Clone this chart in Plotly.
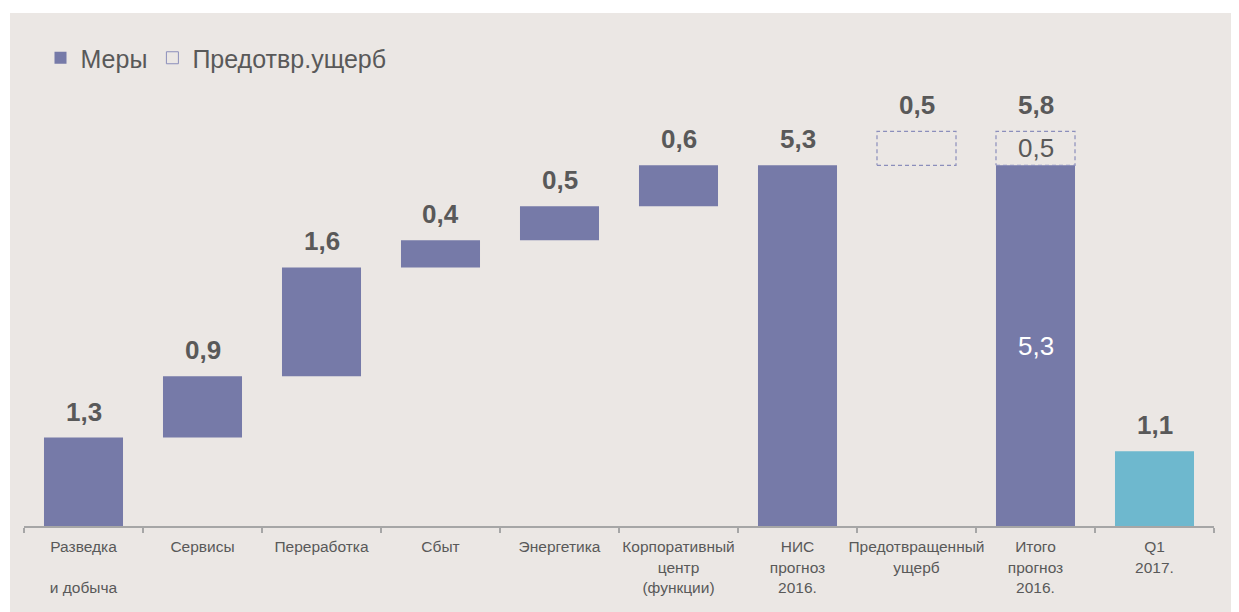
import plotly.graph_objects as go

categories = ["Разведка<br> <br>и добыча", "Сервисы", "Переработка", "Сбыт", "Энергетика",
              "Корпоративный<br>центр<br>(функции)", "НИС<br>прогноз<br>2016.",
              "Предотвращенный<br>ущерб", "Итого<br>прогноз<br>2016.", "Q1<br>2017."]
measures = [1.3, 0.9, 1.6, 0.4, 0.5, 0.6]
nis_total = 5.3
prevented = 0.5
q1_2017 = 1.1

PURPLE = "#767AA8"
CYAN = "#6EB8CE"
DASH = "#8B8EBB"
TXT = "#595959"
BG = "#EBE7E4"
FONT = "Arial, Liberation Sans, sans-serif"
W = 0.664

def fmt(v):
    return f"{v:.1f}".replace(".", ",")

# waterfall geometry from data
bases = []
c = 0.0
for v in measures:
    bases.append(c)
    c += v
n = len(measures)
i_nis, i_prev, i_tot, i_q1 = n, n + 1, n + 2, n + 3

fig = go.Figure()
fig.add_trace(go.Bar(
    name="Меры",
    x=list(range(n)) + [i_nis, i_tot],
    y=measures + [nis_total, nis_total],
    base=bases + [0, 0],
    width=W, marker=dict(color=PURPLE, line=dict(width=0)),
))
fig.add_trace(go.Bar(
    x=[i_q1], y=[q1_2017], base=[0], width=W, showlegend=False,
    marker=dict(color=CYAN, line=dict(width=0)),
))
# legend entry for prevented damage
fig.add_trace(go.Bar(
    name="Предотвр.ущерб", x=[None], y=[None],
    marker=dict(color="rgba(0,0,0,0)", line=dict(color=DASH, width=1)),
))
# dashed boxes
for i in (i_prev, i_tot):
    fig.add_trace(go.Scatter(
        x=[i - W / 2, i + W / 2, i + W / 2, i - W / 2, i - W / 2],
        y=[nis_total, nis_total, nis_total + prevented, nis_total + prevented, nis_total],
        mode="lines", line=dict(color=DASH, width=1.2, dash="4px,3px"),
        showlegend=False, hoverinfo="skip",
    ))

# labels on top
tops = [b + v for b, v in zip(bases, measures)] + [nis_total, nis_total + prevented,
                                                     nis_total + prevented, q1_2017]
top_vals = measures + [nis_total, prevented, nis_total + prevented, q1_2017]
for i, (t, v) in enumerate(zip(tops, top_vals)):
    fig.add_annotation(x=i, y=t, text=f"<b>{fmt(v)}</b>", showarrow=False,
                       yanchor="middle", yshift=26,
                       font=dict(family=FONT, size=26, color=TXT))
# inner labels for the total bar
fig.add_annotation(x=i_tot, y=nis_total / 2, text=fmt(nis_total), showarrow=False,
                   yanchor="middle", font=dict(family=FONT, size=26, color="white"))
fig.add_annotation(x=i_tot, y=nis_total + prevented / 2, text=fmt(prevented), showarrow=False,
                   yanchor="middle", font=dict(family=FONT, size=26, color=TXT))

FW, FH = 1231, 604
L, R, T, B = 16, 25, 92, 86
PW, PH = FW - L - R, FH - T - B
fig.add_shape(type="rect", xref="paper", yref="paper", layer="below",
              x0=(2 - L) / PW, x1=1.05, y0=-0.3, y1=(FH - B - 5) / PH,
              fillcolor=BG, line=dict(width=0))

fig.update_layout(
    width=FW, height=FH,
    margin=dict(l=L, r=R, t=T, b=B),
    paper_bgcolor="white", plot_bgcolor="rgba(0,0,0,0)",
    barmode="overlay",
    font=dict(family=FONT, color=TXT),
    legend=dict(orientation="h", x=(32.5 - L) / PW, xanchor="left",
                y=(FH - B - 50) / PH, yanchor="middle",
                font=dict(family=FONT, size=25, color=TXT),
                bgcolor="rgba(0,0,0,0)", traceorder="normal"),
    xaxis=dict(range=[-0.5, 9.5], tickmode="array", tickvals=list(range(10)),
               ticktext=categories, ticks="", showgrid=False, zeroline=False,
               showline=True, linecolor="#A6A6A6", linewidth=1.5,
               ticklabelstandoff=6,
               tickfont=dict(family=FONT, size=15.5, color=TXT),
               minor=dict(tickvals=[k - 0.5 for k in range(11)], ticks="outside",
                          ticklen=5, tickcolor="#A6A6A6", tickwidth=1.5, showgrid=False),
               fixedrange=True),
    yaxis=dict(range=[0, 6.26], visible=False, fixedrange=True),
    showlegend=True,
)

fig.write_html("out.html")
